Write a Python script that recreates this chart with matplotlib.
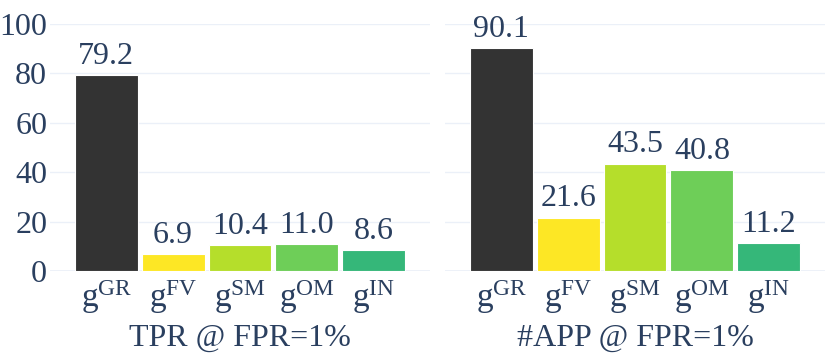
import numpy as np
import matplotlib
matplotlib.use("Agg")
import matplotlib.pyplot as plt

plt.rcParams['font.family'] = ['Liberation Serif', 'DejaVu Serif']
plt.rcParams['mathtext.fontset'] = 'custom'
plt.rcParams['mathtext.rm'] = 'Liberation Serif'
plt.rcParams['mathtext.it'] = 'Liberation Serif:italic'

# data
methods = ['GR', 'FV', 'SM', 'OM', 'IN']
tpr = [79.2, 6.9, 10.4, 11.0, 8.6]
n_app = [90.1, 21.6, 43.5, 40.8, 11.2]
titles = ['TPR @ FPR=1%', '#APP @ FPR=1%']
colors = ['#333333', '#fde725', '#b5de2b', '#6ece58', '#35b779']

text_color = '#2a3f5f'
grid_color = '#ebf0f8'
fs = 23

fig = plt.figure(figsize=(8.3, 3.6), dpi=100)
ax1 = fig.add_axes([50 / 830, 89 / 360, 380 / 830, 247 / 360])
ax2 = fig.add_axes([445 / 830, 89 / 360, 380 / 830, 247 / 360])

x = np.arange(len(methods))
labels = [r'$\mathrm{g}^{\mathrm{%s}}$' % m for m in methods]

for ax, vals, title in zip([ax1, ax2], [tpr, n_app], titles):
    bars = ax.bar(x, vals, width=0.94, color=colors, edgecolor='white', linewidth=0.8, zorder=3)
    for b, v in zip(bars, vals):
        ax.annotate('%.1f' % v, (b.get_x() + b.get_width() / 2, v), xytext=(0, 3),
                    textcoords='offset points', ha='center', va='bottom',
                    fontsize=fs, color=text_color, annotation_clip=False)
    ax.set_xlim(-0.84, 4.84)
    ax.set_ylim(0, 100)
    ax.set_yticks([0, 20, 40, 60, 80, 100])
    for yv in [20, 40, 60, 80, 100]:
        ax.axhline(yv, color=grid_color, lw=1, zorder=0)
    ax.axhline(0, color=grid_color, lw=2, zorder=0)
    ax.set_xticks(x)
    ax.set_xticklabels(labels, fontsize=fs + 1, color=text_color)
    ax.set_xlabel(title, fontsize=fs, color=text_color, labelpad=6)
    ax.tick_params(axis='y', length=0, pad=2, labelsize=fs, colors=text_color)
    ax.tick_params(axis='x', length=0, pad=5, colors=text_color)
    for s in ax.spines.values():
        s.set_visible(False)

ax2.set_yticklabels([])

fig.savefig('out.png', dpi=100)
